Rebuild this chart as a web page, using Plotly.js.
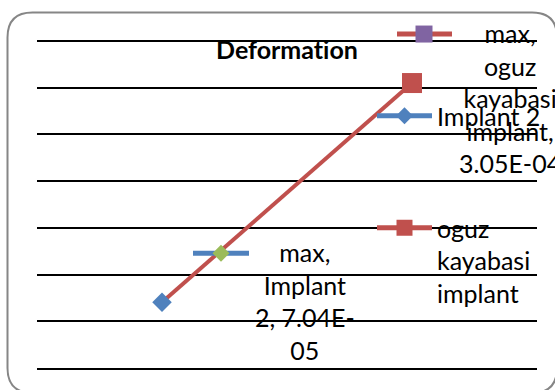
<!DOCTYPE html>
<html>
<head>
<meta charset="utf-8">
<script src="https://cdn.plot.ly/plotly-3.0.1.min.js"></script>
<style>html,body{margin:0;padding:0;background:#fff;}#chart{width:555px;height:390px;}
#chart text{font-variant-ligatures:none;font-feature-settings:"liga" 0,"clig" 0,"dlig" 0;}</style>
</head>
<body>
<div id="chart"></div>
<script>
// ---- data ----
var seriesName = "max";
var categories = ["Implant 2", "oguz kayabasi implant"];
var values = [7.04e-5, 3.05e-4];
var chartTitle = "Deformation";
var yMax = 3.5e-4, yStep = 5e-5;

// ---- styles ----
var BLUE = "#4F81BD", RED = "#C0504D", GREEN = "#9BBB59", PURPLE = "#8064A2";
var FONT = "Lato";
var FS = 25;

function fmtE(v) {
  var s = v.toExponential(2).toUpperCase();
  var m = s.split("E");
  var exp = parseInt(m[1], 10);
  var sign = exp < 0 ? "-" : "+";
  var a = Math.abs(exp);
  return m[0] + "E" + sign + (a < 10 ? "0" + a : "" + a);
}

var ctx = document.createElement("canvas").getContext("2d");
ctx.font = FS + "px " + FONT;
function w(t) { return ctx.measureText(t).width; }
function wrap(text, maxW) {
  var words = text.split(" ");
  var lines = [];
  var cur = "";
  for (var i = 0; i < words.length; i++) {
    var cand = cur ? cur + " " + words[i] : words[i];
    if (w(cand) <= maxW) { cur = cand; continue; }
    var hy = words[i].indexOf("-");
    if (cur && hy > 0 && w(cur + " " + words[i].slice(0, hy + 1)) <= maxW) {
      lines.push(cur + " " + words[i].slice(0, hy + 1));
      cur = words[i].slice(hy + 1);
      continue;
    }
    if (cur) lines.push(cur);
    cur = words[i];
  }
  if (cur) lines.push(cur);
  return lines.join("<br>");
}

var labelTexts = categories.map(function (c, i) {
  return wrap([seriesName, c, fmtE(values[i])].join(", "), 105);
});

var symbols = ["diamond", "square"];
var colors = [BLUE, RED];
var keyColors = [GREEN, PURPLE];

var traces = [
  {
    type: "scatter", mode: "lines+markers",
    x: categories, y: values, name: seriesName,
    line: {color: RED, width: 4},
    marker: {symbol: symbols, color: colors, size: [15, 20], opacity: 1, line: {width: 0}},
    showlegend: false, hoverinfo: "skip", cliponaxis: false
  },
  {
    type: "scatter", mode: "lines+markers", x: [null], y: [null],
    name: categories[0], legend: "legend",
    line: {color: BLUE, width: 5},
    marker: {symbol: "diamond", color: BLUE, size: 13, opacity: 1}
  },
  {
    type: "scatter", mode: "lines+markers", x: [null], y: [null],
    name: categories[1].split(" ").join("<br>"), legend: "legend2",
    line: {color: RED, width: 5},
    marker: {symbol: "square", color: RED, size: 18, opacity: 1}
  }
];

var labelDX = [143, 98];
var annotations = categories.map(function (c, i) {
  return {
    x: i, y: values[i], xref: "x", yref: "y",
    text: labelTexts[i], showarrow: false,
    xanchor: "center", yanchor: "top", align: "center",
    xshift: labelDX[i], yshift: 67,
    font: {family: FONT, size: FS, color: "#000"}
  };
});

var keyLine = [[31, 87], [-15, 40]];
var keyMark = [59, 12];
var shapes = [];
categories.forEach(function (c, i) {
  shapes.push({
    type: "line", xref: "x", yref: "y", xsizemode: "pixel", ysizemode: "pixel",
    xanchor: i, yanchor: values[i],
    x0: keyLine[i][0], x1: keyLine[i][1], y0: 49, y1: 49,
    line: {color: colors[i], width: 5}, layer: "above"
  });
  var cx = keyMark[i], cy = 49, r = 8.5, p;
  if (symbols[i] === "diamond") {
    p = "M" + cx + "," + (cy + r) + " L" + (cx + r) + "," + cy + " L" + cx + "," + (cy - r) + " L" + (cx - r) + "," + cy + " Z";
  } else {
    p = "M" + (cx - r) + "," + (cy - r) + " L" + (cx + r) + "," + (cy - r) + " L" + (cx + r) + "," + (cy + r) + " L" + (cx - r) + "," + (cy + r) + " Z";
  }
  shapes.push({
    type: "path", xref: "x", yref: "y", xsizemode: "pixel", ysizemode: "pixel",
    xanchor: i, yanchor: values[i], path: p,
    fillcolor: keyColors[i], line: {width: 0}, layer: "above"
  });
});

// plot area (px): grid spans GT..B, plot area extends to T so label keys are not clipped
var L = 37, R = 537, T = 10, GT = 41, B = 368;
var yTop = yMax * (B - T) / (B - GT);
var tickVals = [];
for (var k = 0; k * yStep <= yMax + 1e-12; k++) tickVals.push(k * yStep);

function px(x) { return ((x - L) / (R - L)).toFixed(4); }
function py(y) { return ((B - y) / (B - T)).toFixed(4); }
var bx0 = 7.5, by0 = 12.5, bx1 = 557, by1 = 393, rr = 25;
var bpath = "M" + px(bx0) + "," + py(by0 + rr) +
  " Q" + px(bx0) + "," + py(by0) + " " + px(bx0 + rr) + "," + py(by0) +
  " L" + px(bx1 - rr) + "," + py(by0) +
  " Q" + px(bx1) + "," + py(by0) + " " + px(bx1) + "," + py(by0 + rr) +
  " L" + px(bx1) + "," + py(by1 - rr) +
  " Q" + px(bx1) + "," + py(by1) + " " + px(bx1 - rr) + "," + py(by1) +
  " L" + px(bx0 + rr) + "," + py(by1) +
  " Q" + px(bx0) + "," + py(by1) + " " + px(bx0) + "," + py(by1 - rr) + " Z";
shapes.push({type: "path", xref: "paper", yref: "paper", path: bpath,
  line: {color: "#868686", width: 2}, fillcolor: "rgba(0,0,0,0)", layer: "below"});

var legendBase = {
  xref: "container", yref: "container", xanchor: "left", yanchor: "top",
  bgcolor: "rgba(0,0,0,0)", borderwidth: 0, itemwidth: 55, valign: "top",
  font: {family: FONT, size: FS, color: "#000"}, itemclick: false, itemdoubleclick: false
};
var legend1 = Object.assign({}, legendBase, {x: 372 / 555, y: 1 - 93 / 390});
var legend2 = Object.assign({}, legendBase, {x: 372 / 555, y: 1 - 205 / 390});

var layout = {
  width: 555, height: 390,
  margin: {l: L, r: 555 - R, t: T, b: 390 - B, pad: 0, autoexpand: false},
  paper_bgcolor: "#fff", plot_bgcolor: "rgba(0,0,0,0)",
  title: {text: chartTitle, x: 287 / 555, xanchor: "center", y: 1 - 50 / 390, yanchor: "middle",
    font: {family: FONT, size: 25, weight: 700, color: "#000"}, automargin: false},
  xaxis: {type: "category", range: [-0.5, 1.5], showgrid: false, zeroline: false,
    showline: true, mirror: false, linecolor: "#000", linewidth: 2,
    showticklabels: false, ticks: "", fixedrange: true},
  yaxis: {range: [0, yTop], tickmode: "array", tickvals: tickVals, showgrid: true, gridcolor: "#000", gridwidth: 2,
    zeroline: false, showline: false, showticklabels: false, ticks: "", fixedrange: true},
  showlegend: true,
  legend: legend1,
  legend2: legend2,
  annotations: annotations,
  shapes: shapes
};

Plotly.newPlot("chart", traces, layout, {displayModeBar: false, staticPlot: true});
</script>
</body>
</html>
